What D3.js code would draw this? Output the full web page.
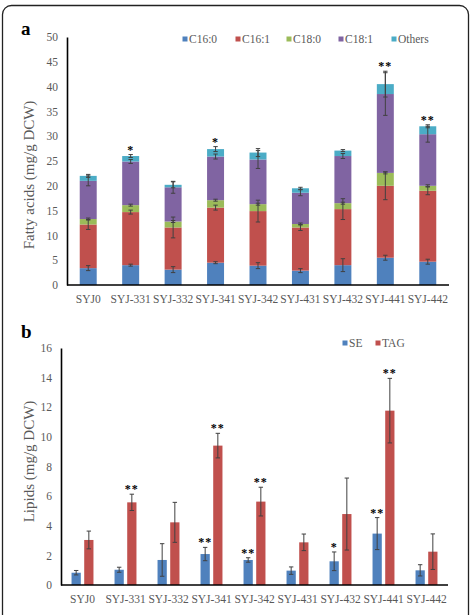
<!DOCTYPE html>
<html>
<head>
<meta charset="utf-8">
<script src="https://cdn.jsdelivr.net/npm/d3@7/dist/d3.min.js"></script>
<style>
  body { margin: 0; background: #fff; }
  svg text { font-family: "Liberation Serif", "Times New Roman", "DejaVu Serif", serif; }
</style>
</head>
<body>
<svg id="chart" width="471" height="615"></svg>
<script>
// strains
const categories = ['SYJ0', 'SYJ-331', 'SYJ-332', 'SYJ-341', 'SYJ-342', 'SYJ-431', 'SYJ-432', 'SYJ-441', 'SYJ-442'];

// panel a: fatty acids (mg/g DCW), stacked
const faKeys = ['C16:0', 'C16:1', 'C18:0', 'C18:1', 'Others'];
const c160 = [3.4, 4.0, 3.1, 4.5, 3.9, 2.9, 4.0, 5.5, 4.7];
const c161 = [8.8, 10.7, 8.5, 11.1, 11.0, 8.7, 11.3, 14.5, 14.3];
const c180 = [1.1, 1.4, 1.2, 1.5, 1.4, 0.7, 1.2, 2.6, 1.0];
const c181 = [7.7, 8.8, 6.9, 8.8, 9.0, 6.3, 9.5, 15.9, 10.4];
const others = [1.0, 1.1, 0.5, 1.5, 1.4, 0.9, 1.1, 2.0, 1.6];
const c160Err = [0.5, 0.2, 0.6, 0.2, 0.6, 0.4, 1.3, 0.5, 0.5];
const c161Err = [1.0, 0.4, 2.1, 0.5, 2.2, 0.6, 2.1, 2.8, 0.8];
const c180Err = [0.2, 0.2, 0.2, 0.2, 0.2, 0.2, 0.2, 0.2, 0.2];
const c181Err = [1.0, 0.4, 1.2, 0.5, 1.8, 0.6, 0.5, 4.3, 1.6];
const othersErr = [0.3, 0.3, 0.6, 0.5, 0.8, 0.2, 0.2, 2.6, 0.3];
const faStars = ['', '*', '', '*', '', '', '', '**', '**'];
const faTicks = [0, 5, 10, 15, 20, 25, 30, 35, 40, 45, 50];

// panel b: lipids (mg/g DCW)
const lipKeys = ['SE', 'TAG'];
const seVals = [0.83, 1.03, 1.69, 2.09, 1.69, 0.97, 1.60, 3.47, 0.99];
const tagVals = [3.04, 5.58, 4.23, 9.41, 5.63, 2.88, 4.79, 11.77, 2.25];
const seErr = [0.15, 0.17, 1.1, 0.45, 0.15, 0.25, 0.63, 1.08, 0.38];
const tagErr = [0.6, 0.55, 1.35, 0.83, 0.97, 0.56, 2.43, 2.18, 1.2];
const seStars = ['', '', '', '**', '**', '', '*', '**', ''];
const tagStars = ['', '**', '', '**', '**', '', '', '**', ''];
const lipTicks = [0, 2, 4, 6, 8, 10, 12, 14, 16];

const faColors = ['#4f81bd', '#c0504d', '#9bbb59', '#8064a2', '#4bacc6'];
const lipColors = ['#4f81bd', '#c0504d'];
const textGray = '#595959';
const errColor = '#404040';
const serif = '"Liberation Serif", "Times New Roman", "DejaVu Serif", serif';

const svg = d3.select('#chart');

// frame
svg.append('rect')
    .attr('x', 2.5).attr('y', 5.5)
    .attr('width', 466).attr('height', 640)
    .attr('rx', 9)
    .attr('fill', 'none')
    .attr('stroke', '#222')
    .attr('stroke-width', 1.3);

function errorBar(g, cx, yTop, yBot, cap) {
    g.append('line')
        .attr('x1', cx).attr('x2', cx)
        .attr('y1', yTop).attr('y2', yBot)
        .attr('stroke', errColor).attr('stroke-width', 1);
    [yTop, yBot].forEach(yy => {
        g.append('line')
            .attr('x1', cx - cap).attr('x2', cx + cap)
            .attr('y1', yy).attr('y2', yy)
            .attr('stroke', errColor).attr('stroke-width', 1);
    });
}

function styleAxes(gx, gy) {
    gy.select('.domain').attr('stroke', '#000').attr('stroke-width', 1.6);
    gx.select('.domain').attr('stroke', '#000').attr('stroke-width', 1.6);
    [gx, gy].forEach(g => {
        g.attr('font-family', serif).attr('font-size', 11.5);
        g.selectAll('text').attr('fill', textGray);
    });
}

function starText(g, data, xf, yf, txt) {
    g.selectAll('text').data(data).join('text')
        .attr('x', xf)
        .attr('y', yf)
        .attr('text-anchor', 'middle')
        .attr('font-family', serif)
        .attr('font-size', 12)
        .attr('font-weight', 'bold')
        .attr('letter-spacing', 1)
        .attr('fill', '#000')
        .text(txt);
}

// ---------- panel a ----------
{
    const left = 67, right = 449, top = 37, bottom = 285;
    const x = d3.scaleBand().domain(categories).range([left, right])
        .paddingInner(0.6).paddingOuter(0.3);
    const y = d3.scaleLinear().domain([0, 50]).range([bottom, top]);

    const rows = categories.map((c, i) => ({
        cat: c, 'C16:0': c160[i], 'C16:1': c161[i], 'C18:0': c180[i], 'C18:1': c181[i], 'Others': others[i]
    }));
    const errs = [c160Err, c161Err, c180Err, c181Err, othersErr];
    const series = d3.stack().keys(faKeys)(rows);

    const g = svg.append('g');
    series.forEach((s, k) => {
        g.append('g').selectAll('rect').data(s).join('rect')
            .attr('x', d => x(d.data.cat))
            .attr('width', x.bandwidth())
            .attr('y', d => y(d[1]))
            .attr('height', d => y(d[0]) - y(d[1]))
            .attr('fill', faColors[k]);
    });
    const eg = svg.append('g');
    series.forEach((s, k) => {
        s.forEach((d, i) => {
            const cx = x(d.data.cat) + x.bandwidth() / 2;
            errorBar(eg, cx, y(d[1] + errs[k][i]), y(d[1] - errs[k][i]), 2.2);
        });
    });
    const totals = rows.map(r => d3.sum(faKeys, k => r[k]));
    starText(svg.append('g'), categories,
        d => x(d) + x.bandwidth() / 2,
        (d, i) => y(Math.max(totals[i] + othersErr[i], series[3][i][1] + c181Err[i])) - 1,
        (d, i) => faStars[i]);

    const gy = svg.append('g').attr('transform', `translate(${left},0)`)
        .call(d3.axisLeft(y).tickValues(faTicks).tickSize(0).tickPadding(9));
    const gx = svg.append('g').attr('transform', `translate(0,${bottom})`)
        .call(d3.axisBottom(x).tickSize(0).tickPadding(10).tickSizeOuter(0));
    styleAxes(gx, gy);
    gx.select('.domain').attr('d', `M${left},0H${right}`);

    svg.append('text')
        .attr('transform', `translate(34,${(top + bottom) / 2 + 14}) rotate(-90)`)
        .attr('text-anchor', 'middle')
        .attr('font-family', serif)
        .attr('fill', textGray)
        .attr('font-size', 15)
        .text('Fatty acids (mg/g DCW)');

    svg.append('text').attr('x', 21).attr('y', 35)
        .attr('font-family', serif)
        .attr('font-size', 19).attr('font-weight', 'bold').text('a');

    // legend
    const legX = [185, 238, 289, 341, 394];
    const lg = svg.append('g').selectAll('g').data(faKeys).join('g')
        .attr('transform', (d, i) => `translate(${legX[i]},39)`);
    lg.append('rect').attr('x', -2.5).attr('y', -2.5).attr('width', 5).attr('height', 5)
        .attr('fill', (d, i) => faColors[i]);
    lg.append('text').attr('x', 4).attr('y', 4)
        .attr('font-family', serif)
        .attr('font-size', 11.5).attr('fill', textGray).text(d => d);
}

// ---------- panel b ----------
{
    const left = 61, right = 448, top = 348, bottom = 585;
    const x = d3.scaleBand().domain(categories).range([left, right])
        .paddingInner(0.49).paddingOuter(0.245);
    const x1 = d3.scaleBand().domain(lipKeys).range([0, x.bandwidth()]).paddingInner(0.27);
    const y = d3.scaleLinear().domain([0, 16]).range([bottom, top]);

    const vals = [seVals, tagVals];
    const errs = [seErr, tagErr];
    const stars = [seStars, tagStars];

    lipKeys.forEach((key, k) => {
        const g = svg.append('g');
        g.selectAll('rect').data(categories).join('rect')
            .attr('x', d => x(d) + x1(key))
            .attr('width', x1.bandwidth())
            .attr('y', (d, i) => y(vals[k][i]))
            .attr('height', (d, i) => y(0) - y(vals[k][i]))
            .attr('fill', lipColors[k]);
        categories.forEach((c, i) => {
            const cx = x(c) + x1(key) + x1.bandwidth() / 2;
            errorBar(g, cx, y(vals[k][i] + errs[k][i]), y(vals[k][i] - errs[k][i]), 2.2);
        });
        starText(g.append('g'), categories,
            d => x(d) + x1(key) + x1.bandwidth() / 2,
            (d, i) => y(vals[k][i] + errs[k][i]) - 1,
            (d, i) => stars[k][i]);
    });

    const gy = svg.append('g').attr('transform', `translate(${left},0)`)
        .call(d3.axisLeft(y).tickValues(lipTicks).tickSize(0).tickPadding(9));
    const gx = svg.append('g').attr('transform', `translate(0,${bottom})`)
        .call(d3.axisBottom(x).tickSize(0).tickPadding(10).tickSizeOuter(0));
    styleAxes(gx, gy);
    gx.select('.domain').attr('d', `M${left},0H${right}`);

    svg.append('text')
        .attr('transform', `translate(34,${(top + bottom) / 2 - 5}) rotate(-90)`)
        .attr('text-anchor', 'middle')
        .attr('font-family', serif)
        .attr('fill', textGray)
        .attr('font-size', 15)
        .text('Lipids (mg/g DCW)');

    svg.append('text').attr('x', 21).attr('y', 338)
        .attr('font-family', serif)
        .attr('font-size', 19).attr('font-weight', 'bold').text('b');

    const legX = [345, 378];
    const lg = svg.append('g').selectAll('g').data(lipKeys).join('g')
        .attr('transform', (d, i) => `translate(${legX[i]},343)`);
    lg.append('rect').attr('x', -2.5).attr('y', -2.5).attr('width', 5).attr('height', 5)
        .attr('fill', (d, i) => lipColors[i]);
    lg.append('text').attr('x', 4).attr('y', 4)
        .attr('font-family', serif)
        .attr('font-size', 11.5).attr('fill', textGray).text(d => d);
}
</script>
</body>
</html>
